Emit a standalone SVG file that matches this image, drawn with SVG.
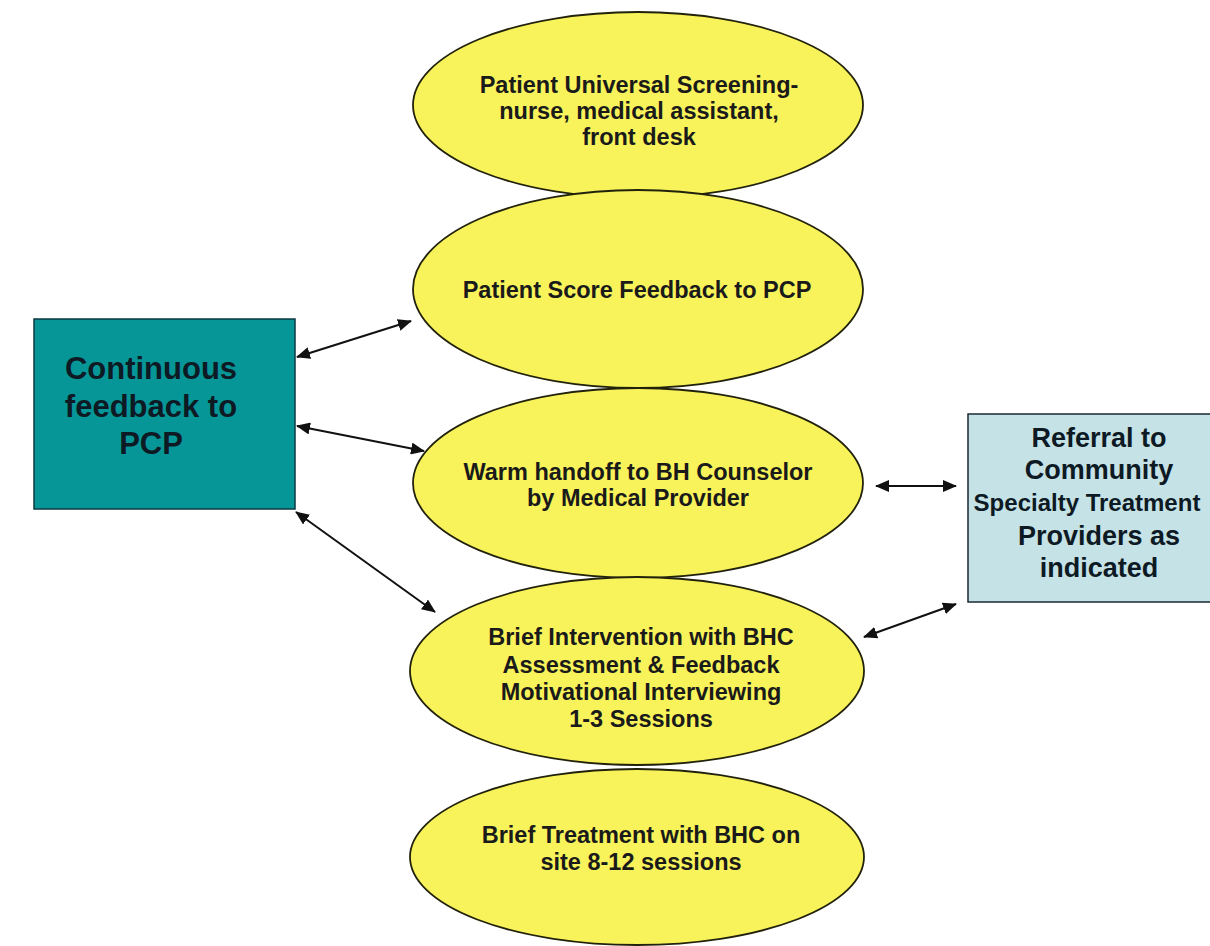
<svg xmlns="http://www.w3.org/2000/svg" width="1210" height="946" viewBox="0 0 1210 946">
<defs>
<style>
.ell{fill:#F8F35A;stroke:#22220c;stroke-width:1.8}
.et{font-family:"Liberation Sans",Arial,sans-serif;font-weight:bold;font-size:23.5px;fill:#1a1a1a;text-anchor:middle}
.bt{font-family:"Liberation Sans",Arial,sans-serif;font-weight:bold;text-anchor:middle;fill:#0d1a24}
.con{stroke:#111;stroke-width:2;fill:none;marker-start:url(#ah);marker-end:url(#ah)}
</style>
<marker id="ah" viewBox="0 0 14 12" refX="13" refY="6" markerWidth="14" markerHeight="12" markerUnits="userSpaceOnUse" orient="auto-start-reverse">
<path d="M0,0 L14,6 L0,12 Z" fill="#111"/>
</marker>
</defs>
<rect width="1210" height="946" fill="#fff"/>
<g id="screening">
<ellipse class="ell" cx="638" cy="105" rx="225" ry="93"/>
<text class="et" x="639" y="93">Patient Universal Screening-</text>
<text class="et" x="639" y="119">nurse, medical assistant,</text>
<text class="et" x="639" y="145">front desk</text>
</g>
<g id="score">
<ellipse class="ell" cx="638" cy="289" rx="225" ry="99"/>
<text class="et" x="637" y="298">Patient Score Feedback to PCP</text>
</g>
<g id="handoff">
<ellipse class="ell" cx="638" cy="483" rx="225" ry="95"/>
<text class="et" x="638" y="480">Warm handoff to BH Counselor</text>
<text class="et" x="638" y="506">by Medical Provider</text>
</g>
<g id="intervention">
<ellipse class="ell" cx="637" cy="671" rx="227" ry="94"/>
<text class="et" x="641" y="645">Brief Intervention with BHC</text>
<text class="et" x="641" y="673">Assessment &amp; Feedback</text>
<text class="et" x="641" y="700">Motivational Interviewing</text>
<text class="et" x="641" y="727">1-3 Sessions</text>
</g>
<g id="treatment">
<ellipse class="ell" cx="637" cy="857" rx="227" ry="88"/>
<text class="et" x="641" y="843">Brief Treatment with BHC on</text>
<text class="et" x="641" y="870">site 8-12 sessions</text>
</g>
<g id="pcp">
<rect x="34" y="319" width="261" height="190" fill="#079698" stroke="#0a3a40" stroke-width="1.5"/>
<text class="bt" x="151" y="379" font-size="31">Continuous</text>
<text class="bt" x="151" y="417" font-size="31">feedback to</text>
<text class="bt" x="151" y="454" font-size="31">PCP</text>
</g>
<g id="referral">
<rect x="968" y="414" width="250" height="188" fill="#C5E2E7" stroke="#1a2a30" stroke-width="1.5"/>
<text class="bt" x="1099" y="447" font-size="27">Referral to</text>
<text class="bt" x="1099" y="479" font-size="27">Community</text>
<text class="bt" x="1087" y="511" font-size="24">Specialty Treatment</text>
<text class="bt" x="1099" y="545" font-size="27">Providers as</text>
<text class="bt" x="1099" y="577" font-size="27">indicated</text>
</g>
<g id="connectors">
<line class="con" x1="297" y1="357" x2="411" y2="321"/>
<line class="con" x1="297" y1="426" x2="424" y2="451"/>
<line class="con" x1="296" y1="512" x2="435" y2="612"/>
<line class="con" x1="876" y1="486" x2="956" y2="486"/>
<line class="con" x1="864" y1="637" x2="956" y2="604"/>
</g>
</svg>
